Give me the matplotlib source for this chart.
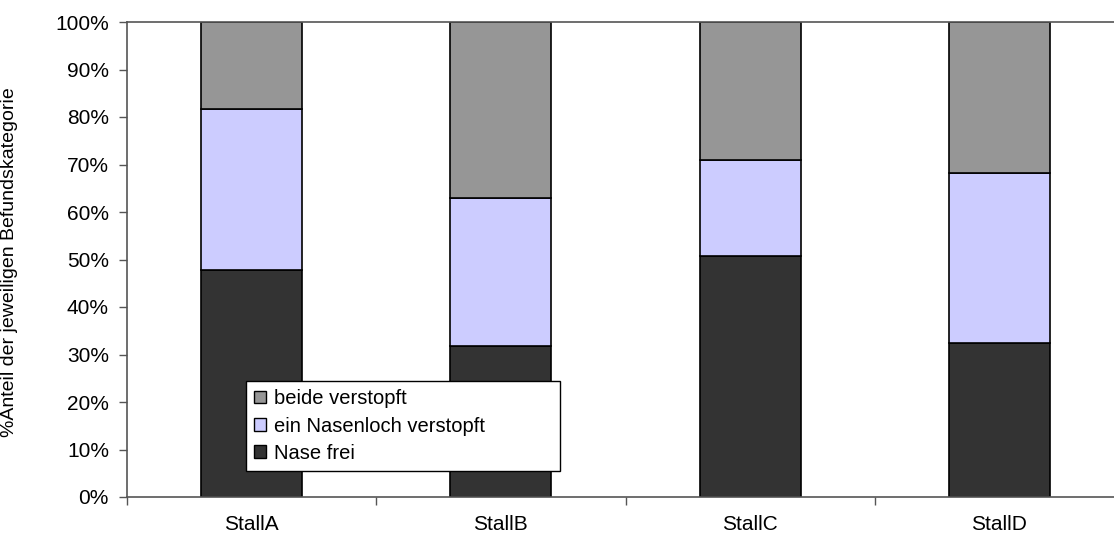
import numpy as np
import matplotlib.pyplot as plt
from matplotlib.ticker import PercentFormatter

plt.rcParams['font.family'] = ['Liberation Sans', 'DejaVu Sans']

# Anteile je Stall (in %)
stalls = ['StallA', 'StallB', 'StallC', 'StallD']
nase_frei = [47.8, 31.7, 50.8, 32.4]
ein_nasenloch = [33.9, 31.2, 20.2, 35.9]
beide = [18.3, 37.1, 29.0, 31.7]

series = [
    ('Nase frei', nase_frei, '#333333'),
    ('ein Nasenloch verstopft', ein_nasenloch, '#ccccff'),
    ('beide verstopft', beide, '#969696'),
]

fig = plt.figure(figsize=(11.14, 5.37), dpi=100)
ax = fig.add_axes([127 / 1114, 1 - 497 / 537, 997 / 1114, 475 / 537])

x = np.arange(len(stalls))
bottom = np.zeros(len(stalls))
handles = []
for name, vals, col in series:
    b = ax.bar(x, vals, width=0.405, bottom=bottom, color=col,
               edgecolor='black', linewidth=1.2, label=name)
    handles.append(b)
    bottom += np.array(vals)

ax.set_xlim(-0.5, 3.5)
ax.set_ylim(0, 100)
ax.set_yticks(np.arange(0, 101, 10))
ax.yaxis.set_major_formatter(PercentFormatter(decimals=0))
ax.set_xticks(x)
ax.set_xticklabels(stalls)
ax.set_xticks(np.arange(-0.5, 3.6, 1), minor=True)
ax.tick_params(axis='x', which='major', length=0, pad=13, labelsize=15)
ax.tick_params(axis='x', which='minor', length=6, width=1, color='#555555', direction='out')
ax.tick_params(axis='y', length=6, width=1, color='#555555', labelsize=15, pad=7)

for side in ['left', 'bottom', 'top']:
    ax.spines[side].set_color('#555555')
    ax.spines[side].set_linewidth(1.2)
ax.spines['right'].set_visible(False)

ax.set_ylabel('%Anteil der jeweiligen Befundskategorie', fontsize=14)
ax.yaxis.set_label_coords(-0.109, 0.495)

# legend box spans a fixed region inside the axes (upper left corner + size)
lx0, lx1 = (246 - 127) / 997, (560 - 127) / 997
ly0, ly1 = (497 - 472) / 475, (497 - 381) / 475
leg = ax.legend(handles[::-1], [s[0] for s in series][::-1],
                loc='upper left', bbox_to_anchor=(lx0, ly0, lx1 - lx0, ly1 - ly0),
                mode='expand', fontsize=14.5, frameon=True, fancybox=False,
                shadow=False, framealpha=1.0,
                handlelength=0.6, handleheight=0.6, handletextpad=0.4,
                borderpad=0.4, labelspacing=0.42, borderaxespad=0)
leg.get_frame().set_edgecolor('black')
leg.get_frame().set_linewidth(1.0)
for h in leg.legend_handles:
    h.set_linewidth(1.0)

fig.savefig('out.png', dpi=100)
